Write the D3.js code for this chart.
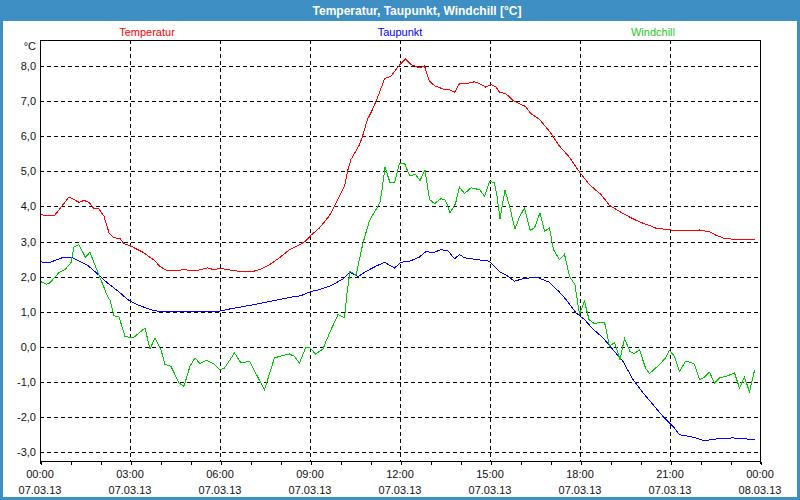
<!DOCTYPE html>
<html>
<head>
<meta charset="utf-8">
<script src="https://cdn.jsdelivr.net/npm/d3@7"></script>
<style>
html,body{margin:0;padding:0;background:#fff;}
svg{display:block;}
</style>
</head>
<body>
<svg id="chart" width="800" height="500"></svg>
<script>
// ---- data (time in minutes since 07.03.13 00:00, values in °C) ----
const seriesNames = ["Temperatur", "Taupunkt", "Windchill"];
const seriesColors = ["#ff0000", "#0000ff", "#00c800"];
const legendColors = ["#ff0000", "#0000ff", "#22cc22"];

const tempMin = [0,9,29,58,78,88,98,108,118,128,138,148,160,168,182,208,228,241,255,271,291,301,315,335,348,361,375,389,405,423,439,459,479,499,519,531,542,559,579,592,609,616,622,639,645,655,665,679,689,702,712,720,731,742,759,769,779,789,809,819,829,839,852,869,879,891,902,912,919,932,945,959,971,982,999,1019,1039,1059,1079,1099,1122,1139,1159,1179,1199,1219,1232,1259,1269,1279,1306,1319,1339,1352,1369,1399,1429];
const tempVal = [3.80,3.74,3.74,4.27,4.12,4.17,4.12,3.94,3.93,3.72,3.25,3.11,3.09,2.94,2.87,2.68,2.47,2.28,2.17,2.18,2.20,2.17,2.18,2.25,2.20,2.24,2.20,2.17,2.14,2.14,2.20,2.34,2.54,2.77,2.91,3.01,3.18,3.39,3.74,4.10,4.58,5.05,5.34,5.76,6.00,6.48,6.76,7.24,7.64,7.71,7.90,8.04,8.20,8.04,7.95,8.00,7.57,7.44,7.33,7.33,7.25,7.50,7.50,7.55,7.50,7.40,7.47,7.40,7.25,7.21,7.03,6.92,6.85,6.64,6.48,6.14,5.72,5.40,4.98,4.62,4.34,4.03,3.86,3.70,3.56,3.46,3.38,3.34,3.31,3.33,3.31,3.33,3.28,3.18,3.09,3.05,3.05];

const dewMin = [0,8,22,35,48,62,75,95,108,122,135,148,162,175,195,222,242,261,309,328,355,379,426,472,499,522,542,559,586,606,619,626,636,652,672,689,709,722,739,759,772,786,802,816,829,839,849,872,899,919,932,949,969,996,1019,1039,1052,1072,1089,1106,1126,1146,1166,1186,1206,1226,1246,1266,1279,1292,1312,1329,1352,1386,1412,1429];
const dewVal = [2.44,2.39,2.42,2.49,2.56,2.56,2.47,2.33,2.17,1.99,1.82,1.68,1.52,1.35,1.20,1.06,1.00,1.02,1.02,1.00,1.01,1.08,1.20,1.33,1.41,1.46,1.58,1.63,1.77,1.94,2.12,2.08,2.00,2.15,2.30,2.41,2.25,2.41,2.44,2.56,2.72,2.68,2.77,2.74,2.51,2.63,2.54,2.49,2.44,2.14,2.05,1.87,1.96,1.97,1.84,1.56,1.35,0.97,0.78,0.51,0.26,-0.08,-0.41,-0.93,-1.31,-1.64,-1.98,-2.26,-2.50,-2.53,-2.59,-2.67,-2.62,-2.59,-2.62,-2.64];

const chillMin = [0,12,18,38,50,62,68,78,91,100,112,125,135,140,148,158,170,178,188,210,220,230,242,250,262,278,288,300,310,320,332,348,360,369,389,402,419,449,469,479,499,509,519,531,540,551,566,572,582,596,609,614,620,625,632,646,659,672,680,684,690,700,709,719,729,739,751,760,770,779,789,802,811,820,831,839,849,862,879,889,899,909,914,920,930,939,950,959,969,980,989,1000,1009,1019,1027,1039,1049,1059,1070,1079,1082,1089,1098,1109,1119,1129,1139,1149,1160,1169,1180,1189,1199,1211,1219,1239,1251,1259,1269,1279,1291,1302,1309,1319,1329,1339,1349,1359,1372,1389,1399,1409,1419,1429];
const chillVal = [1.87,1.79,1.80,2.12,2.20,2.40,2.85,2.91,2.55,2.70,2.25,1.80,1.44,1.33,0.89,0.85,0.30,0.28,0.28,0.54,-0.06,0.26,-0.08,-0.50,-0.55,-1.03,-1.12,-0.55,-0.31,-0.48,-0.38,-0.48,-0.65,-0.60,-0.17,-0.46,-0.41,-1.22,-0.31,-0.27,-0.20,-0.27,-0.46,-0.03,-0.03,-0.20,-0.06,0.16,0.49,0.92,0.83,1.54,2.15,2.11,2.04,2.96,3.60,3.91,4.12,4.48,5.12,4.68,4.68,5.23,5.23,4.88,4.91,4.74,5.03,4.20,4.08,4.22,4.18,3.82,4.08,4.55,4.37,4.53,4.48,4.29,4.72,4.67,4.29,3.65,4.47,4.01,3.36,3.70,3.96,3.32,3.39,3.82,3.29,3.39,2.77,2.49,2.64,2.01,1.77,0.92,1.04,1.30,0.78,0.66,0.71,0.71,0.02,0.13,-0.36,0.24,-0.13,-0.19,-0.08,-0.60,-0.76,-0.50,-0.31,-0.10,-0.27,-0.70,-0.41,-0.44,-0.50,-0.93,-0.86,-0.72,-1.03,-0.88,-0.84,-0.74,-1.17,-0.86,-1.28,-0.67];

const yTicks = [-3,-2,-1,0,1,2,3,4,5,6,7,8];
const xMajorTicks = [0,180,360,540,720,900,1080,1260,1440];
const xTimeLabels = ["00:00","03:00","06:00","09:00","12:00","15:00","18:00","21:00","00:00"];
const xDateLabels = ["07.03.13","07.03.13","07.03.13","07.03.13","07.03.13","07.03.13","07.03.13","07.03.13","08.03.13"];
const xMinorTicks = d3.range(0, 1441, 60);
const titleText = "Temperatur, Taupunkt, Windchill [°C]";
const unitText = "°C";

// ---- drawing ----
const svg = d3.select("#chart");
const W = 800, H = 500;
const frameColor = "#3d8fc4";
const font = "'Liberation Sans', Arial, sans-serif";
const plot = {left: 40, right: 760, top: 40, bottom: 461};

// frame
svg.append("rect").attr("x",0).attr("y",0).attr("width",W).attr("height",H).attr("fill",frameColor);
svg.append("rect").attr("x",3).attr("y",21).attr("width",W-6).attr("height",H-24).attr("fill","#ffffff");
svg.append("text").attr("x",417).attr("y",15).attr("text-anchor","middle")
  .attr("font-family",font).attr("font-weight","bold").attr("font-size","12px")
  .attr("fill","#ffffff").text(titleText);

const x = d3.scaleLinear().domain([0,1440]).range([plot.left, plot.right]);
const y = d3.scaleLinear().domain([-3,8]).range([452.3, 66]);

const g = svg.append("g");

// grid
g.selectAll("line.hgrid").data(yTicks).join("line").attr("class","hgrid")
  .attr("x1",plot.left).attr("x2",plot.right)
  .attr("y1",d=>Math.round(y(d))+0.5).attr("y2",d=>Math.round(y(d))+0.5)
  .attr("stroke","#000").attr("stroke-width",1).attr("stroke-dasharray","4,3").attr("shape-rendering","crispEdges");
g.selectAll("line.vgrid").data(xMajorTicks.slice(1,-1)).join("line").attr("class","vgrid")
  .attr("x1",d=>Math.round(x(d))+0.5).attr("x2",d=>Math.round(x(d))+0.5)
  .attr("y1",plot.top).attr("y2",plot.bottom)
  .attr("stroke","#000").attr("stroke-width",1).attr("stroke-dasharray","4,3").attr("shape-rendering","crispEdges");

// plot border
g.append("line").attr("x1",plot.left).attr("x2",plot.right).attr("y1",plot.top+0.5).attr("y2",plot.top+0.5)
  .attr("stroke","#000").attr("shape-rendering","crispEdges");
g.append("line").attr("x1",plot.left+0.5).attr("x2",plot.left+0.5).attr("y1",plot.top).attr("y2",plot.bottom+3)
  .attr("stroke","#000").attr("shape-rendering","crispEdges");
g.append("line").attr("x1",plot.right+0.5).attr("x2",plot.right+0.5).attr("y1",plot.top).attr("y2",plot.bottom+3)
  .attr("stroke","#000").attr("shape-rendering","crispEdges");

// bottom axis with hourly ticks
const xAxis = d3.axisBottom(x).tickValues(xMinorTicks).tickSize(3).tickFormat("");
const axG = svg.append("g").attr("transform",`translate(0.5,${plot.bottom+0.5})`).call(xAxis);
axG.select(".domain").attr("stroke","#000").attr("shape-rendering","crispEdges").attr("d",`M${plot.left},0H${plot.right}`);
axG.selectAll(".tick line").attr("stroke","#000").attr("shape-rendering","crispEdges");

// x labels
svg.selectAll("text.xt").data(xMajorTicks).join("text").attr("class","xt")
  .attr("x",d=>x(d)).attr("y",478).attr("text-anchor","middle")
  .attr("font-family",font).attr("font-size","11px").attr("fill","#111")
  .text((d,i)=>xTimeLabels[i]);
svg.selectAll("text.xd").data(xMajorTicks).join("text").attr("class","xd")
  .attr("x",d=>x(d)).attr("y",494).attr("text-anchor","middle")
  .attr("font-family",font).attr("font-size","11px").attr("fill","#111")
  .text((d,i)=>xDateLabels[i]);

// y labels
const fmt = d=>d3.format(".1f")(d).replace(".",",").replace("−","-");
svg.selectAll("text.yt").data(yTicks).join("text").attr("class","yt")
  .attr("x",36).attr("y",d=>y(d)+4).attr("text-anchor","end")
  .attr("font-family",font).attr("font-size","11px").attr("fill","#111")
  .text(fmt);
svg.append("text").attr("x",36).attr("y",50).attr("text-anchor","end")
  .attr("font-family",font).attr("font-size","11px").attr("fill","#111").text(unitText);

// legend
const legendX = [147, 400, 653];
svg.selectAll("text.leg").data(seriesNames).join("text").attr("class","leg")
  .attr("x",(d,i)=>legendX[i]).attr("y",36).attr("text-anchor","middle")
  .attr("font-family",font).attr("font-size","11px").attr("fill",(d,i)=>legendColors[i])
  .text(d=>d);

// lines
const series = [
  {min: tempMin, val: tempVal},
  {min: dewMin, val: dewVal},
  {min: chillMin, val: chillVal}
];
const line = d3.line().x(d=>x(d[0])).y(d=>y(d[1]));
svg.append("clipPath").attr("id","pc").append("rect")
  .attr("x",plot.left+1).attr("y",plot.top+1).attr("width",plot.right-plot.left-1).attr("height",plot.bottom-plot.top-1);
svg.append("g").attr("clip-path","url(#pc)").selectAll("path.s").data(series).join("path").attr("class","s")
  .attr("d",s=>line(s.min.map((m,i)=>[m,s.val[i]])))
  .attr("fill","none").attr("stroke",(d,i)=>seriesColors[i]).attr("stroke-width",1)
  .attr("shape-rendering","crispEdges");
</script>
</body>
</html>
